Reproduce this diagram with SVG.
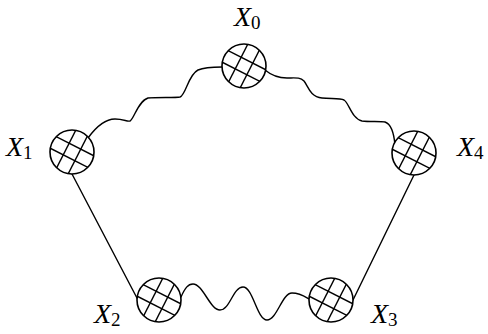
<svg xmlns="http://www.w3.org/2000/svg" width="488" height="334" viewBox="0 0 488 334">
<style>
.edge{fill:none;stroke:#000;stroke-width:1.4;stroke-linecap:round;stroke-linejoin:round}
.hatch{stroke:#000;stroke-width:1.4}
.rim{fill:none;stroke:#000;stroke-width:1.6}
.lbl{font-family:"Liberation Serif","Times New Roman",serif;font-size:28px;font-style:italic;fill:#000}
.sub{font-style:normal;font-size:19px}
</style>
<defs>
<clipPath id="cc"><circle cx="0" cy="0" r="22"/></clipPath>
<g id="blob">
<circle cx="0" cy="0" r="22" fill="#fff"/>
<g clip-path="url(#cc)" class="hatch">
<line x1="-29.7" y1="-7.8" x2="23.8" y2="19.4"/>
<line x1="-23.8" y1="-19.4" x2="29.7" y2="7.8"/>
<line x1="-7.8" y1="29.7" x2="19.4" y2="-23.8"/>
<line x1="-19.4" y1="23.8" x2="7.8" y2="-29.7"/>
</g>
<circle cx="0" cy="0" r="22" class="rim"/>
</g>
</defs>
<g id="connectors">
<path class="edge" d="M72,174 L138,300"/>
<path class="edge" d="M414,175 L353,300"/>
<path class="edge" d="M88,138 C96,127 105,119 115,119 C124,119 127,122 130,121 C134,119 138,101 148,98 C158,97 175,98 180,97 C186,95 188,75 198,70 C205,67 214,67 222,67"/>
<path class="edge" d="M265,70 C271,75 278,78 287,78 C295,78 300,77 304,81 C308,86 310,97 322,98 C330,99 340,98 344,100 C349,103 352,119 362,121 C370,122 380,121 385,122 C391,124 394,134 395,145"/>
<path class="edge" d="M181,297 C185,288 188,284 193,284 C203,284 210,310 220,310 C230,310 233,287 243,287 C253,287 257,320 267,320 C277,320 282,293 292,293 C300,293 304,296 309,299"/>
</g>
<g id="X0"><use href="#blob" x="244" y="66"/><text class="lbl" x="234" y="26">X<tspan class="sub" dy="3">0</tspan></text></g>
<g id="X1"><use href="#blob" x="72" y="152"/><text class="lbl" x="6" y="156">X<tspan class="sub" dy="3">1</tspan></text></g>
<g id="X4"><use href="#blob" x="414" y="153"/><text class="lbl" x="457" y="156">X<tspan class="sub" dy="3">4</tspan></text></g>
<g id="X2"><use href="#blob" x="159" y="300"/><text class="lbl" x="94" y="323">X<tspan class="sub" dy="3">2</tspan></text></g>
<g id="X3"><use href="#blob" x="331" y="300"/><text class="lbl" x="371" y="323">X<tspan class="sub" dy="3">3</tspan></text></g>
</svg>
